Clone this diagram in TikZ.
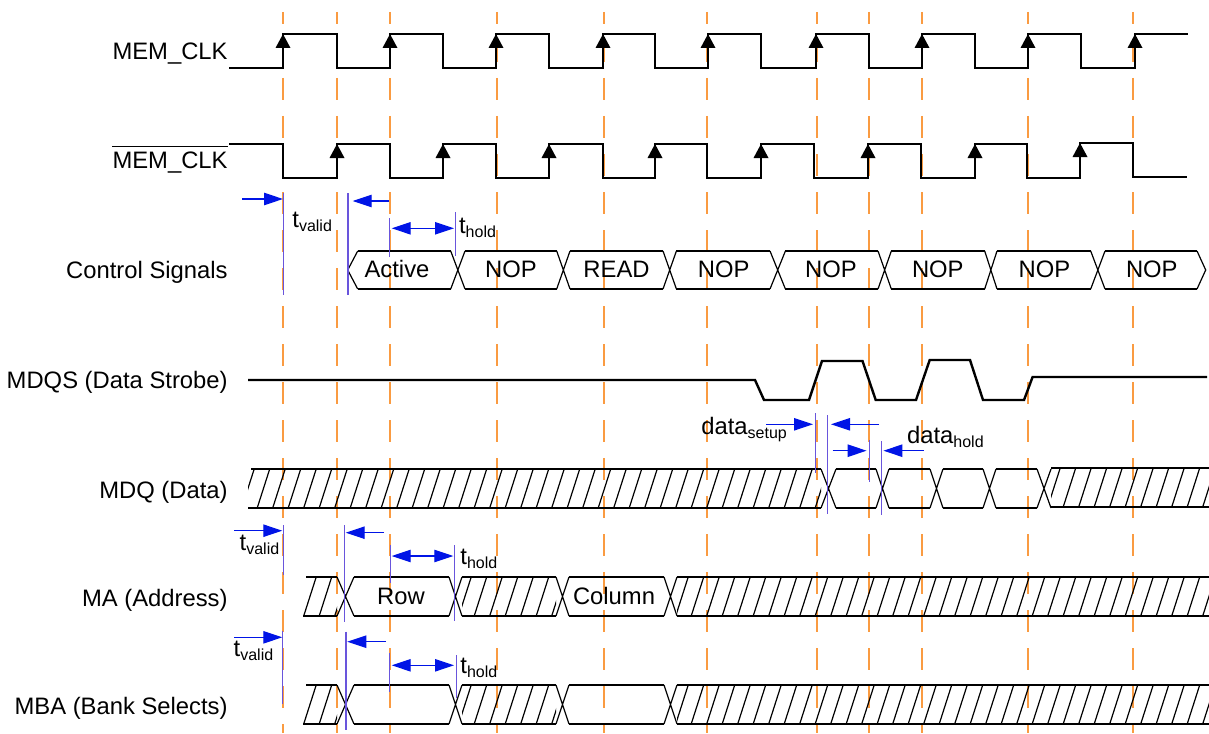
\documentclass[tikz,border=0pt]{standalone}
\usepackage{fontspec}
\setmainfont{Liberation Sans}
\usetikzlibrary{arrows.meta}
\definecolor{gridorange}{RGB}{250,155,65}
\definecolor{arrowblue}{RGB}{0,20,230}
\definecolor{markblue}{RGB}{105,85,220}
\tikzset{
  wave/.style={line width=1.2pt, black, line join=miter},
  thinline/.style={line width=0.6pt, black},
  gridline/.style={gridorange, line width=0.6pt, dash pattern=on 11pt off 8pt, dash phase=5pt},
  markline/.style={markblue, line width=0.55pt},
  tarrow/.style={arrowblue, line width=0.6pt, -{Triangle[length=9.5pt,width=6.2pt]}},
  tdarrow/.style={arrowblue, line width=0.6pt, {Triangle[length=9.5pt,width=6.2pt]}-{Triangle[length=9.5pt,width=6.2pt]}},
  lbl/.style={anchor=base east, inner sep=0pt, font=\fontsize{11.9}{14}\selectfont},
  btext/.style={anchor=base, inner sep=0pt, font=\fontsize{11.9}{14}\selectfont},
  atext/.style={anchor=base west, inner sep=0pt, font=\fontsize{11.9}{14}\selectfont},
}
\newcommand{\sublbl}[2]{#1\raisebox{-2pt}{\fontsize{8}{8}\selectfont #2}}
\newcommand{\bushl}[4]{\draw[wave] (#1,#3) -- (#2,#3) (#1,#4) -- (#2,#4);}
\newcommand{\busx}[4]{\draw[thinline] (#1,#3) -- (#2,#4) (#1,#4) -- (#2,#3);}
\newcommand{\bushatch}[4]{%
  \begin{scope}
    \clip (#1,#3) rectangle (#2,#4);
    \foreach \hx in {195.2,210.7,...,1230} {\draw[thinline] (\hx,#4) -- (\hx+12.5,#3);}
  \end{scope}}
\newcommand{\clktip}[2]{\fill[black] (#1,#2) -- ++(-7.5,14) -- ++(15,0) -- cycle;}
\begin{document}
\begin{tikzpicture}[x=0.5pt,y=-0.5pt]
\useasboundingbox (0,0) rectangle (1209,733);
% reference grid
\foreach \gx in {283,337,390,497,604,707,817,869,922,1028,1133}
  {\draw[gridline] (\gx,12) -- (\gx,733);}

% row labels
\node[lbl] (lclk) at (228,60) {MEM\_CLK};
\node[lbl] (lclkn) at (228,169) {MEM\_CLK};
\draw[line width=0.9pt] ([yshift=2.7pt]lclkn.north west) -- ([yshift=2.7pt]lclkn.north east);
\node[lbl] (lctl) at (228,278) {Control Signals};
\node[lbl] (lmdqs) at (228,388) {MDQS (Data Strobe)};
\node[lbl] (lmdq) at (228,498) {MDQ (Data)};
\node[lbl] (lma) at (228,606) {MA (Address)};
\node[lbl] (lmba) at (228,714) {MBA (Bank Selects)};

% MEM_CLK
\draw[wave] (229,68) -| (283,34) -| (337,68) -| (390,34) -| (443,68) -| (496,34) -| (549,68) -| (603,34) -| (655,68) -| (708,34) -| (761,68) -| (816,34) -| (869,68) -| (922,34) -| (975,68) -| (1028,34) -| (1081,68) -| (1135,34) -- (1188,34);
\foreach \ax in {283,390,496,603,708,816,922,1028,1135} {\clktip{\ax}{34}}
% MEM_CLK#
\draw[wave] (229,144) -| (283,178) -| (337,144) -| (390,178) -| (443,144) -| (496,178) -| (549,144) -| (603,178) -| (655,144) -| (707,178) -| (761,144) -| (814,178) -| (868,144) -| (921,178) -| (975,144) -| (1027,178) -| (1080,143) -| (1133,177) -- (1187,177);
\foreach \ax in {337,443,549,655,761,868,975} {\clktip{\ax}{144}}
\clktip{1080}{143}

% Control signals bus
\draw[thinline] (357.7,251) -- (347.7,270) -- (357.7,289);
\bushl{357.7}{450.7}{251}{289}
\busx{450.7}{465}{251}{289}
\bushl{465}{556.7}{251}{289}
\busx{556.7}{570}{251}{289}
\bushl{570}{663}{251}{289}
\busx{663}{676.4}{251}{289}
\bushl{676.4}{770}{251}{289}
\busx{770}{785.4}{251}{289}
\bushl{785.4}{878}{251}{289}
\busx{878}{891.3}{251}{289}
\bushl{891.3}{984.7}{251}{289}
\busx{984.7}{997}{251}{289}
\bushl{997}{1090.7}{251}{289}
\busx{1090.7}{1105}{251}{289}
\bushl{1105}{1197}{251}{289}
\draw[thinline] (1197,251) -- (1205.7,270) -- (1197,289);
\node[btext] (c1) at (397,277) {Active};
\node[btext] (c2) at (511,277) {NOP};
\node[btext] (c3) at (616.5,277) {READ};
\node[btext] (c4) at (723.7,277) {NOP};
\node[btext] (c5) at (831,277) {NOP};
\node[btext] (c6) at (937.8,277) {NOP};
\node[btext] (c7) at (1044.4,277) {NOP};
\node[btext] (c8) at (1151.8,277) {NOP};

% Control timing marks
\draw[markline] (283.3,193) -- (283.3,295);
\draw[markline] (348,193) -- (348,295);
\draw[markline] (389.3,218) -- (389.3,257);
\draw[markline] (455.7,212) -- (455.7,256);
\draw[tarrow] (242,199) -- (283,199);
\draw[tarrow] (389,201) -- (352.7,201);
\draw[tdarrow] (391.7,228.3) -- (454,228.3);
\node[atext] (tv1) at (292,227) {\sublbl{t}{valid}};
\node[atext] (th1) at (458.7,233.3) {\sublbl{t}{hold}};

% MDQS
\draw[wave] (248,380) -- (755,380) -- (764,400) -- (809,400) -- (822,361) -- (862.5,361) -- (875.7,400) -- (916,400) -- (929.7,360) -- (970,360) -- (983,400) -- (1024,400) -- (1032.6,377) -- (1207,377);

% MDQ bus
\bushatch{248}{821}{469}{508}
\draw[wave] (251,469) -- (821,469) (248,508) -- (821,508);
\busx{821}{836}{469}{508}
\bushl{836}{876}{469}{508}
\busx{876}{889}{469}{508}
\bushl{889}{930}{469}{508}
\busx{930}{943}{469}{508}
\bushl{943}{983}{469}{508}
\busx{983}{996}{469}{508}
\bushl{996}{1037}{469}{508}
\busx{1037}{1051}{469}{508}
\bushatch{1051}{1209}{468}{507}
\bushl{1051}{1209}{468}{507}

% data setup / hold marks
\draw[markline] (815.6,413) -- (815.6,473);
\draw[markline] (827.4,415) -- (827.4,514);
\draw[markline] (869.6,440) -- (869.6,482);
\draw[markline] (881.4,441) -- (881.4,515);
\draw[tarrow] (766,424.3) -- (813,424.3);
\draw[tarrow] (879,424.3) -- (831,424.3);
\draw[tarrow] (832.5,450.7) -- (866.6,450.7);
\draw[tarrow] (923.6,450.7) -- (883.4,450.7);
\node[atext] (ds) at (701,434) {\sublbl{data}{setup}};
\node[atext] (dh) at (906.7,443) {\sublbl{data}{hold}};

% MA bus
\bushatch{303}{337}{577}{616}
\draw[wave] (306,577) -- (337,577) (303,616) -- (337,616);
\busx{337}{354}{577}{616}
\bushl{354}{449}{577}{616}
\busx{449}{462}{577}{616}
\bushatch{462}{556}{577}{616}
\bushl{462}{556}{577}{616}
\busx{556}{569}{577}{616}
\bushl{569}{664}{577}{616}
\busx{664}{677}{577}{616}
\bushatch{677}{1209}{577}{616}
\bushl{677}{1209}{577}{616}
\node[btext] (row) at (401,604) {Row};
\node[btext] (col) at (614,604) {Column};

% MA timing marks
\draw[markline] (283.3,525) -- (283.3,575);
\draw[markline] (344.3,525) -- (344.3,621.7);
\draw[markline] (390.7,545) -- (390.7,582.7);
\draw[markline] (454.3,545) -- (454.3,620.7);
\draw[tarrow] (234,530.7) -- (282.3,530.7);
\draw[tarrow] (384,532.7) -- (345.7,532.7);
\draw[tdarrow] (391.7,556) -- (453.3,556);
\node[atext] (tv2) at (239.3,550) {\sublbl{t}{valid}};
\node[atext] (th2) at (460,564) {\sublbl{t}{hold}};

% MBA bus
\bushatch{303}{337}{685}{724}
\draw[wave] (306,685) -- (337,685) (303,724) -- (337,724);
\busx{337}{354}{685}{724}
\bushl{354}{449}{685}{724}
\busx{449}{462}{685}{724}
\bushatch{462}{556}{685}{724}
\bushl{462}{556}{685}{724}
\busx{556}{569}{685}{724}
\bushl{569}{664}{685}{724}
\busx{664}{677}{685}{724}
\bushatch{677}{1209}{685}{724}
\bushl{677}{1209}{685}{724}

% MBA timing marks
\draw[markline] (282.7,630.7) -- (282.7,704);
\draw[markline] (346,631.7) -- (346,730);
\draw[markline] (389.3,652.7) -- (389.3,691.7);
\draw[markline] (456.7,655) -- (456.7,698.3);
\draw[tarrow] (234,637.3) -- (282.3,637.3);
\draw[tarrow] (386,641.7) -- (347.3,641.7);
\draw[tdarrow] (391.7,665.3) -- (454,665.3);
\node[atext] (tv3) at (233.3,656.7) {\sublbl{t}{valid}};
\node[atext] (th3) at (460,673.3) {\sublbl{t}{hold}};
\end{tikzpicture}
\end{document}
